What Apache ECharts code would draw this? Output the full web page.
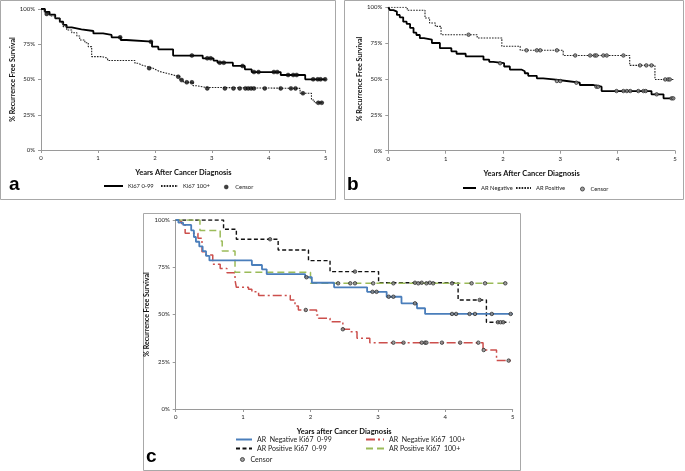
<!DOCTYPE html>
<html><head><meta charset="utf-8">
<script src="https://cdn.jsdelivr.net/npm/echarts@6/dist/echarts.min.js"></script>
<style>html,body{margin:0;padding:0;background:#fff}#c{width:685px;height:471px}</style>
</head><body><div id="c"></div><script>
// ---------- DATA (Kaplan-Meier steps: [years, % survival after the step]) ----------
const yTicks = [0, 25, 50, 75, 100];
const xTickLabels = ['0', '1', '2', '3', '4', '5'];

// Panel a
const aNames = ['Ki67 0-99', 'Ki67 100+'];
const aKiLow = [[0,100],[0.07,98],[0.15,96],[0.25,93.4],[0.33,91],[0.39,88.7],[0.45,87],[0.54,85.6],[0.71,84.4],[0.92,82.7],[1.09,81.6],[1.24,79.9],[1.4,78],[1.5,76.8],[1.95,73.3],[2.06,71.4],[2.32,67],[2.84,65],[3.03,63.4],[3.1,61.9],[3.37,59.6],[3.58,57.2],[3.7,55.3],[4.21,53.2],[4.64,50.1],[5,50.1]];
const aKiHigh = [[0,100],[0.05,98],[0.1,96.5],[0.16,95],[0.25,93.4],[0.33,90.3],[0.39,87.5],[0.45,85.1],[0.54,83.2],[0.63,80.9],[0.68,78],[0.77,76.1],[0.83,73.3],[0.89,66.2],[1.08,65],[1.17,63.5],[1.65,61.5],[1.71,60.3],[1.77,59.1],[1.87,58],[1.97,56.7],[2.03,55.6],[2.09,54.4],[2.21,53.2],[2.32,52],[2.44,49.6],[2.5,48],[2.67,45.6],[2.73,44.4],[2.9,43.7],[4.55,40.2],[4.75,35.5],[4.8,33.5],[4.97,33.5]];
const aKiLowCensor = [1.39,1.93,2.65,2.92,2.98,3.14,3.21,3.54,3.74,3.82,4.09,4.15,4.34,4.43,4.49,4.78,4.86,4.91,4.99];
const aKiHighCensor = [0.1,1.9,2.41,2.47,2.56,2.65,2.92,3.23,3.38,3.49,3.59,3.64,3.69,3.74,3.93,4.21,4.39,4.47,4.6,4.87,4.93];

// Panel b
const bNames = ['AR Negative', 'AR Positive'];
const bArNeg = [[0,100],[0.03,98],[0.09,97],[0.15,94.7],[0.2,93],[0.26,90],[0.32,88.4],[0.38,85.6],[0.44,82.3],[0.49,80.7],[0.55,78.5],[0.62,77.5],[0.76,75.1],[0.9,71.5],[1.1,69.3],[1.19,67.6],[1.35,65.8],[1.66,63.5],[1.76,62],[1.83,61],[2.02,58.7],[2.12,56.6],[2.32,55.4],[2.38,54],[2.44,52.2],[2.59,50.5],[2.7,49.8],[2.88,48.6],[3.11,47.4],[3.34,45.8],[3.58,44.6],[3.72,41.6],[4.59,39.3],[4.8,36.5],[4.98,36.5]];
const bArPos = [[0,100],[0.33,97.9],[0.64,92.5],[0.72,89],[0.82,86.7],[0.92,80.9],[1.55,78.6],[1.98,72.8],[2.3,70],[3.05,66.4],[4.21,59.5],[4.65,49.7],[4.98,49.7]];
const bArNegCensor = [1.95,2.94,3.0,3.28,3.63,3.66,3.98,4.1,4.16,4.22,4.36,4.45,4.49,4.68,4.94,4.97];
const bArPosCensor = [1.4,2.41,2.59,2.65,2.94,3.26,3.52,3.6,3.63,3.75,3.81,4.1,4.39,4.5,4.59,4.83,4.88,4.91];

// Panel c
const cNames = ['AR  Negative Ki67  0-99', 'AR  Negative Ki67  100+', 'AR Positive Ki67  0-99', 'AR Positive Ki67  100+'];
const cNegLow = [[0,100],[0.04,98.6],[0.11,97.4],[0.23,94.5],[0.27,91],[0.3,88.5],[0.35,86],[0.4,83.5],[0.45,81],[0.5,78.6],[1.13,76.2],[1.28,73.9],[1.35,71.4],[1.92,69.7],[2.02,66.8],[2.35,64.4],[2.84,62],[3.13,59.4],[3.35,55.9],[3.58,53.3],[3.7,50.3],[5,50.3]];
const cNegHigh = [[0,100],[0.04,99],[0.09,97.4],[0.14,93],[0.33,90.3],[0.39,83.2],[0.45,81.5],[0.55,76.6],[0.66,74.4],[0.76,72.1],[0.88,68.2],[0.9,64.4],[1.08,63.3],[1.13,62],[1.23,60],[1.7,57.7],[1.77,54.5],[1.82,52.4],[2.09,49.7],[2.12,48],[2.29,46.2],[2.48,42.2],[2.59,40.9],[2.69,37.4],[2.88,35.1],[4.56,31.2],[4.76,25.6],[5,25.6]];
const cPosLow = [[0,100],[0.71,95.1],[0.9,89.8],[1.52,84.1],[1.97,78.5],[2.29,72.7],[3.01,66.8],[4.19,57.7],[4.61,45.9],[4.95,45.9]];
const cPosHigh = [[0,100],[0.36,94.5],[0.66,88.9],[0.69,83.6],[0.88,72.3],[2.0,66.5],[4.92,66.5]];
const cNegLowCensor = [1.94,2.92,2.98,3.16,3.23,3.55,4.1,4.16,4.36,4.44,4.69,4.97];
const cNegHighCensor = [1.93,2.48,3.23,3.38,3.65,3.7,3.72,3.95,4.22,4.49,4.57,4.94];
const cPosLowCensor = [1.4,2.66,3.55,3.65,3.77,4.51,4.78,4.82,4.86];
const cPosHighCensor = [2.41,2.59,2.66,2.93,3.23,3.6,3.72,3.82,4.1,4.39,4.59,4.89];

// ---------- helpers ----------
function survAt(curve, t) { let v = curve[0][1]; for (const p of curve) { if (p[0] <= t + 1e-9) v = p[1]; else break; } return v; }
function censorPts(curve, times) { return times.map(t => [t, survAt(curve, t)]); }

const FONT = 'Lato, "Liberation Sans", sans-serif';
const AXC = '#9a9a9a';

const grids = [
  { left: 41, top: 9, width: 284.7, height: 141 },
  { left: 388.3, top: 7.3, width: 286.7, height: 143.4 },
  { left: 175.7, top: 220, width: 337, height: 189 }
];
const xTitles = ['Years After Cancer Diagnosis', 'Years After Cancer Diagnosis', 'Years after Cancer Diagnosis'];
const yGaps = [22, 21, 22];

function xAxis(i) {
  return { gridIndex: i, type: 'value', min: 0, max: 5, interval: 1,
    name: xTitles[i], nameLocation: 'middle', nameGap: 19,
    nameTextStyle: { fontFamily: FONT, fontWeight: 'bold', fontSize: 7.5, color: '#111' },
    axisLine: { show: true, lineStyle: { color: AXC, width: 1 } },
    axisTick: { show: true, length: 3, lineStyle: { color: AXC } },
    axisLabel: { fontFamily: FONT, fontSize: 6, color: '#222', margin: 5, formatter: v => xTickLabels[v] },
    splitLine: { show: false } };
}
function yAxis(i) {
  return { gridIndex: i, type: 'value', min: yTicks[0], max: yTicks[yTicks.length-1], interval: 25,
    name: '% Recurrence Free Survival', nameLocation: 'middle', nameGap: yGaps[i],
    nameTextStyle: { fontFamily: FONT, fontWeight: 'bold', fontSize: 7, color: '#111' },
    axisLine: { show: true, lineStyle: { color: AXC, width: 1 } },
    axisTick: { show: true, length: 3, lineStyle: { color: AXC } },
    axisLabel: { fontFamily: FONT, fontSize: 6, color: '#222', margin: 6, formatter: '{value}%' },
    splitLine: { show: false } };
}

function km(name, gi, data, lineStyle, z) {
  return { type: 'line', name, xAxisIndex: gi, yAxisIndex: gi, step: 'end', symbol: 'none',
    data, lineStyle, itemStyle: { color: lineStyle.color }, z: z || 2, animation: false };
}
function cens(gi, pts, style, size) {
  return { type: 'scatter', name: 'Censor', xAxisIndex: gi, yAxisIndex: gi, symbol: 'circle',
    symbolSize: size, data: pts, itemStyle: style, z: 5, animation: false };
}

const censA = { color: '#111', borderColor: '#000', borderWidth: 0.5 };
const censBC = { color: '#888', borderColor: '#222', borderWidth: 0.9 };

const series = [
  km(aNames[0], 0, aKiLow, { color: '#000', width: 1.8 }),
  km(aNames[1], 0, aKiHigh, { color: '#222', width: 1.1, type: [1.6, 1.2] }),
  cens(0, censorPts(aKiLow, aKiLowCensor), censA, 4),
  cens(0, censorPts(aKiHigh, aKiHighCensor), censA, 4),

  km(bNames[0], 1, bArNeg, { color: '#000', width: 1.8 }),
  km(bNames[1], 1, bArPos, { color: '#222', width: 1.1, type: [1.6, 1.2] }),
  cens(1, censorPts(bArNeg, bArNegCensor), censBC, 3.5),
  cens(1, censorPts(bArPos, bArPosCensor), censBC, 3.5),

  km(cNames[0], 2, cNegLow, { color: '#4a7ebb', width: 1.8 }, 3),
  km(cNames[1], 2, cNegHigh, { color: '#cc4f4c', width: 1.5, type: [9, 3, 2, 3] }, 2),
  km(cNames[2], 2, cPosLow, { color: '#111', width: 1.4, type: [4, 2.5] }, 2),
  km(cNames[3], 2, cPosHigh, { color: '#9bbb59', width: 1.5, type: [7, 4] }, 2),
  cens(2, censorPts(cNegLow, cNegLowCensor), censBC, 3.5),
  cens(2, censorPts(cNegHigh, cNegHighCensor), censBC, 3.5),
  cens(2, censorPts(cPosLow, cPosLowCensor), censBC, 3.5),
  cens(2, censorPts(cPosHigh, cPosHighCensor), censBC, 3.5)
];

const hideSym = { color: 'rgba(0,0,0,0)', borderColor: 'rgba(0,0,0,0)', borderWidth: 0, opacity: 0 };
const legTxt = { fontFamily: FONT, fontSize: 5.8, color: '#222' };
const legTxtC = { fontFamily: FONT, fontSize: 7, color: '#222' };
function lineLeg(names, left, top, w, txt, extra) {
  return Object.assign({ data: names, left, top, itemWidth: w, itemHeight: 6, itemGap: 2,
    itemStyle: hideSym, textStyle: txt, padding: 0, selectedMode: false }, extra || {});
}
function censLeg(style, left, top, w, txt) {
  return { data: [{ name: 'Censor', itemStyle: style }], left, top, itemWidth: w, itemHeight: 4,
    textStyle: txt, padding: 0, selectedMode: false };
}
const legends = [
  lineLeg([aNames[0]], 103, 183, 19, legTxt),
  lineLeg([aNames[1]], 160, 183, 17, legTxt),
  censLeg(censA, 224, 184, 8, legTxt),
  lineLeg([bNames[0]], 462, 185, 13, legTxt),
  lineLeg([bNames[1]], 515, 185, 15, legTxt),
  censLeg(censBC, 580, 186, 6, legTxt),
  lineLeg([cNames[0], cNames[2]], 235, 436, 16, legTxtC, { orient: 'vertical' }),
  lineLeg([cNames[1], cNames[3]], 365, 436, 18, legTxtC, { orient: 'vertical' }),
  censLeg(censBC, 240, 456, 6, legTxtC)
];

const letterStyle = { fontFamily: '"Liberation Sans", Arial, sans-serif', fontSize: 19, fontWeight: 'bold', color: '#000' };
const titles = [
  { text: 'a', left: 9, top: 175, padding: 0, textStyle: letterStyle },
  { text: 'b', left: 347, top: 175, padding: 0, textStyle: letterStyle },
  { text: 'c', left: 146, top: 447, padding: 0, textStyle: letterStyle }
];

const border = (x, y, w, h) => ({ type: 'rect', shape: { x, y, width: w, height: h }, style: { fill: 'none', stroke: '#a8a8a8', lineWidth: 1 }, silent: true });

const chart = echarts.init(document.getElementById('c'), null, { renderer: 'canvas' });
chart.setOption({
  backgroundColor: '#fff',
  animation: false,
  title: titles,
  legend: legends,
  grid: grids,
  xAxis: [0, 1, 2].map(xAxis),
  yAxis: [0, 1, 2].map(yAxis),
  series,
  graphic: [border(0.5, 0.5, 335, 199), border(344.5, 0.5, 339, 199), border(143.5, 213.5, 377, 257)]
});
</script></body></html>
